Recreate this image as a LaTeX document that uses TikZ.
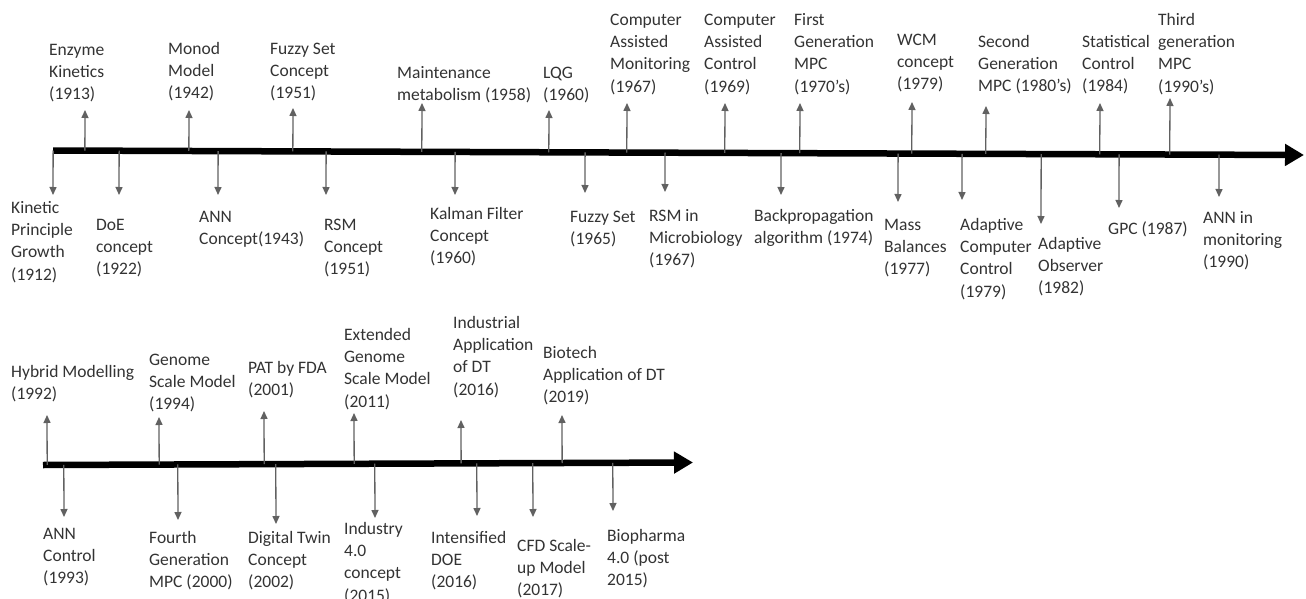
\documentclass[tikz,border=0pt]{standalone}
\usepackage{fontspec}
\setmainfont{Carlito}
\usetikzlibrary{arrows.meta,calc}

\tikzset{
  axisline/.style={line width=6.5pt, line cap=butt, black,
    -{Triangle[width=21pt,length=19pt]}},
  stem/.style={line width=1.3pt, black!62,
    -{Triangle[width=7pt,length=8pt]}},
  lbl/.style={anchor=north west, align=left, inner sep=0pt,
    font=\fontsize{17.5}{22.3}\selectfont, text=black!80},
}

% one event: name, axis, stem x, tip y, label x, first baseline y, text
\newcommand\tlevent[7]{%
  \coordinate (#1-tip) at (#3,#4);
  \coordinate (#1-base) at ($(#2-0)!(#1-tip)!(#2-1)$);
  \node[lbl] (#1) at (#5,{#6-15.61}) {\strut#7};
  \draw[stem] (#1-base) -- (#1-tip);
}

\begin{document}
\begin{tikzpicture}[x=1pt,y=-1pt]
\useasboundingbox (0,0) rectangle (1306,599);
\fill[white] (0,0) rectangle (1306,599);

% the two time axes
\coordinate (axA-0) at (53,150.5);
\coordinate (axA-1) at (1304,155);
\coordinate (axB-0) at (43,465);
\coordinate (axB-1) at (693,462.5);
\draw[axisline] (axA-0) -- (axA-1);
\draw[axisline] (axB-0) -- (axB-1);

% first axis, above
\tlevent{enz}{axA}{85}{110}{49}{55}{Enzyme\\Kinetics\\(1913)}
\tlevent{monod}{axA}{189}{110}{168}{54}{Monod\\Model\\(1942)}
\tlevent{fuzzc}{axA}{293}{108}{270}{54}{Fuzzy Set\\Concept\\(1951)}
\tlevent{maint}{axA}{422}{103}{397}{78}{Maintenance\\metabolism (1958)}
\tlevent{lqg}{axA}{549}{110}{543}{78}{LQG\\(1960)}
\tlevent{cam}{axA}{627}{103}{610}{25}{Computer\\Assisted\\Monitoring\\(1967)}
\tlevent{cac}{axA}{725}{103}{704}{25}{Computer\\Assisted\\Control\\(1969)}
\tlevent{mpca}{axA}{800}{103}{794}{25}{First\\Generation\\MPC\\(1970’s)}
\tlevent{wcm}{axA}{912}{102}{897}{45}{WCM\\concept\\(1979)}
\tlevent{mpcb}{axA}{986}{106}{978}{47}{Second\\Generation\\MPC (1980’s)}
\tlevent{stat}{axA}{1100}{103}{1082}{47}{Statistical\\Control\\(1984)}
\tlevent{mpcc}{axA}{1170}{98}{1158}{25}{Third\\generation\\MPC\\(1990’s)}

% first axis, below
\tlevent{kpg}{axA}{53}{195}{11}{213}{Kinetic\\Principle\\Growth\\(1912)}
\tlevent{doe}{axA}{119}{195}{96}{230}{DoE\\concept\\(1922)}
\tlevent{annc}{axA}{218}{195}{199}{222}{ANN\\Concept(1943)}
\tlevent{rsm}{axA}{326}{195}{324}{230}{RSM\\Concept\\(1951)}
\tlevent{kal}{axA}{455}{195}{430}{219}{Kalman Filter\\Concept\\(1960)}
\tlevent{fuzzy}{axA}{585}{193}{570}{222}{Fuzzy Set\\(1965)}
\tlevent{rsmm}{axA}{665}{192}{649}{221}{RSM in\\Microbiology\\(1967)}
\tlevent{bprop}{axA}{781}{195}{754}{221}{Backpropagation\\algorithm (1974)}
\tlevent{mass}{axA}{898}{202}{884}{230}{Mass\\Balances\\(1977)}
\tlevent{acc}{axA}{962}{200}{960}{230}{Adaptive\\Computer\\Control\\(1979)}
\tlevent{aobs}{axA}{1041}{224}{1038}{249}{Adaptive\\Observer\\(1982)}
\tlevent{gpc}{axA}{1119}{208}{1108}{234}{GPC (1987)}
\tlevent{annm}{axA}{1219}{197}{1203}{223}{ANN in\\monitoring\\(1990)}

% second axis, above
\tlevent{hyb}{axB}{47}{415}{11}{377}{Hybrid Modelling\\(1992)}
\tlevent{gsm}{axB}{159}{417}{149}{365}{Genome\\Scale Model\\(1994)}
\tlevent{pat}{axB}{264}{411}{248}{373}{PAT by FDA\\(2001)}
\tlevent{egsm}{axB}{354}{413}{344}{340}{Extended\\Genome\\Scale Model\\(2011)}
\tlevent{indt}{axB}{461}{420}{453}{328}{Industrial\\Application\\of DT\\(2016)}
\tlevent{biot}{axB}{562}{415}{543}{358}{Biotech\\Application of DT\\(2019)}

% second axis, below
\tlevent{annctl}{axB}{64}{517}{43}{539}{ANN\\Control\\(1993)}
\tlevent{mpcd}{axB}{178}{520}{149}{543}{Fourth\\Generation\\MPC (2000)}
\tlevent{dtc}{axB}{276}{524}{248}{543}{Digital Twin\\Concept\\(2002)}
\tlevent{indf}{axB}{375}{518}{344}{534}{Industry\\4.0\\concept\\(2015)}
\tlevent{idoe}{axB}{477}{516}{431}{543}{Intensified\\DOE\\(2016)}
\tlevent{cfd}{axB}{533}{517}{517}{551}{CFD Scale-\\up Model\\(2017)}
\tlevent{biop}{axB}{613}{511}{607}{541}{Biopharma\\4.0 (post\\2015)}
\end{tikzpicture}
\end{document}
